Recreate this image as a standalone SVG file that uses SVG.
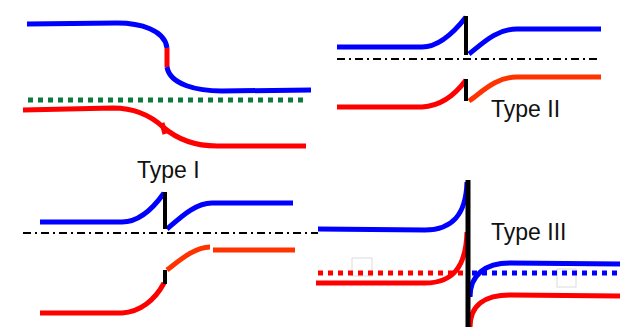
<svg xmlns="http://www.w3.org/2000/svg" width="641" height="333" viewBox="0 0 641 333">
<defs>
<style>
.c{fill:none;stroke-width:5;stroke-linecap:butt;stroke-linejoin:round}
.b{stroke:#0000FF}
.r{stroke:#FF0000}
.o{stroke:#FF3300}
.k{fill:none;stroke:#000;stroke-width:4}
.dd{fill:none;stroke:#000;stroke-width:2;stroke-dasharray:8 4 2 4}
.dot{fill:none;stroke-width:5;stroke-dasharray:5 5}
.lbl{font-family:"Liberation Sans",Arial,sans-serif;font-size:23px;fill:#111}
.ghost{fill:none;stroke:#dcdcdc;stroke-width:1}
</style>
</defs>
<rect width="641" height="333" fill="#fff"/>

<g id="panel-type1-top">
<path class="c b" d="M27,24 L117,23 C140,23 165,30 167,48"/>
<path class="c r" d="M167,48 L167,67"/>
<path class="c b" d="M167,67 C170,85 198,91 222,91 L311,90"/>
<path class="dot" stroke="#0E7A3E" d="M28,100 L308,100"/>
<path class="c r" d="M23,110 L113,108 C135,108 150,115 163,127 C178,140 195,146 217,146 L306,146"/>
<path class="c r" stroke-width="7" d="M162,123 L165,134"/>
</g>

<g id="label-type1"><text class="lbl" x="137" y="178">Type I</text></g>

<g id="panel-type2">
<path class="dd" d="M337,59 L599,59"/>
<path class="c b" d="M337,47 L422,47 C438,47 452,35 466,17"/>
<path class="c b" d="M469,54 C482,44 496,29 517,29 L601,29"/>
<path class="c r" d="M337,107 L422,107 C440,106 455,95 466,80"/>
<path class="c o" d="M469,101 C482,92 496,77 517,77 L601,77"/>
<path class="k" d="M466,16 L466,55"/>
<path class="k" d="M466,79 L466,101"/>
</g>

<g id="label-type2"><text class="lbl" x="491" y="117">Type II</text></g>

<g id="panel-type1-bottom">
<path class="dd" d="M23,233 L318,233"/>
<path class="c b" d="M40,222 L122,222 C138,222 152,210 164,193"/>
<path class="c b" d="M167,229 C180,218 195,203 212,203 L293,203"/>
<path class="c r" d="M40,313 L122,313 C140,312 155,300 164,283"/>
<path class="c o" d="M167,270 C180,260 195,247 210,247"/>
<path class="c o" d="M213,250 L295,250"/>
<path class="k" d="M165,192 L165,229"/>
<path class="k" d="M165,270 L165,284"/>
</g>

<g id="panel-type3">
<rect class="ghost" x="352" y="258" width="20" height="18"/>
<rect class="ghost" x="557" y="269" width="19" height="18"/>
<path class="c b" d="M318,229 L425,230 C452,230 466,215 467,182"/>
<path class="c r" d="M316,283 L425,283 C452,283 466,268 467,232"/>
<path class="dot" stroke="#FF0000" d="M318,273 L466,273"/>
<path class="dot" stroke="#0000FF" d="M472,273 L620,273"/>
<path class="c b" d="M470,297 C470,275 485,263 510,263 L620,264"/>
<path class="c r" d="M470,327 C470,305 485,295 510,295 L620,296"/>
<path fill="none" stroke="#000" stroke-width="5" d="M468,180 L468,327"/>
</g>

<g id="label-type3"><text class="lbl" x="491" y="240">Type III</text></g>
</svg>
